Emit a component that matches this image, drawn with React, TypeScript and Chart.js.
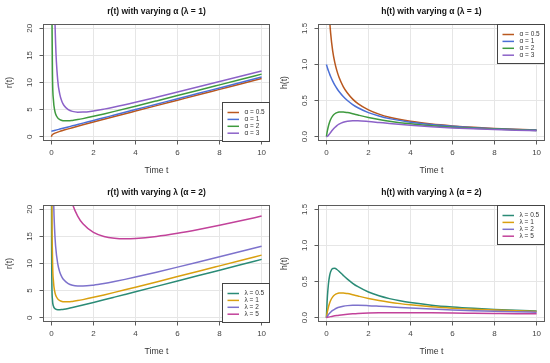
import React, { useEffect, useRef } from 'react';
import { Chart, registerables } from 'chart.js';

Chart.register(...registerables);

const FONT = '"Liberation Sans", Arial, Helvetica, sans-serif';

// ---- data ----
const X_TICKS = [0, 2, 4, 6, 8, 10];
const R_Y_TICKS = [0, 5, 10, 15, 20];
const R_Y_TICK_LABELS = ['0', '5', '10', '15', '20'];
const H_Y_TICKS = [0, 0.5, 1, 1.5];
const H_Y_TICK_LABELS = ['0.0', '0.5', '1.0', '1.5'];

const ALPHA_LABELS = ['α = 0.5', 'α = 1', 'α = 2', 'α = 3'];
const LAMBDA_LABELS = ['λ = 0.5', 'λ = 1', 'λ = 2', 'λ = 5'];
const ALPHA_COLORS = ['#B9581F', '#4B6FD6', '#3E9A3E', '#8C62C8'];
const LAMBDA_COLORS = ['#2A8B76', '#D9A010', '#7D72CC', '#C2429A'];

// time grid for the varying-alpha panels
const T_ALPHA = [0, 0.02, 0.05, 0.1, 0.15, 0.2, 0.3, 0.4, 0.5, 0.6, 0.8, 1, 1.25, 1.5, 2, 2.5, 3, 4, 5, 6, 7, 8, 9, 10];

const R_A05 = [0, 0.251, 0.376, 0.51, 0.61, 0.696, 0.844, 0.975, 1.098, 1.215, 1.44, 1.657, 1.922, 2.183, 2.697, 3.206, 3.713, 4.721, 5.727, 6.73, 7.733, 8.735, 9.737, 10.738];
const R_A1 = [1, 1.02, 1.05, 1.1, 1.15, 1.2, 1.3, 1.4, 1.5, 1.6, 1.8, 2, 2.25, 2.5, 3, 3.5, 4, 5, 6, 7, 8, 9, 10, 11];
const R_A2 = [null, 26.52, 11.55, 6.6, 4.983, 4.2, 3.467, 3.15, 3.0, 2.933, 2.925, 3.0, 3.15, 3.333, 3.75, 4.2, 4.667, 5.625, 6.6, 7.583, 8.571, 9.563, 10.556, 11.55];
const R_A3 = [null, 902, 162, 48.77, 25.85, 17.2, 10.448, 7.817, 6.5, 5.748, 4.988, 4.667, 4.53, 4.537, 4.75, 5.087, 5.481, 6.354, 7.28, 8.231, 9.197, 10.172, 11.152, 12.137];

const H_A05 = [null, 3.99, 2.658, 1.962, 1.639, 1.437, 1.185, 1.025, 0.911, 0.823, 0.694, 0.604, 0.52, 0.458, 0.371, 0.312, 0.269, 0.212, 0.175, 0.149, 0.129, 0.1145, 0.1027, 0.0931];
const H_A1 = [1, 0.98, 0.952, 0.909, 0.87, 0.833, 0.769, 0.714, 0.667, 0.625, 0.556, 0.5, 0.444, 0.4, 0.333, 0.286, 0.25, 0.2, 0.167, 0.143, 0.125, 0.111, 0.1, 0.0909];
const H_A2 = [0, 0.0377, 0.0866, 0.1515, 0.2007, 0.2381, 0.2885, 0.3175, 0.3333, 0.3409, 0.3419, 0.3333, 0.3175, 0.3, 0.2667, 0.2381, 0.2143, 0.1778, 0.1515, 0.1319, 0.1167, 0.1046, 0.0947, 0.0866];
const H_A3 = [0, 0.0011, 0.0062, 0.0205, 0.0387, 0.0581, 0.0957, 0.1279, 0.1538, 0.174, 0.2005, 0.2143, 0.2208, 0.2204, 0.2105, 0.1966, 0.1824, 0.1574, 0.1374, 0.1215, 0.1087, 0.0983, 0.0897, 0.0824];

// time grid for the varying-lambda panels
const T_LAMBDA = [0, 0.005, 0.01, 0.02, 0.05, 0.1, 0.15, 0.2, 0.3, 0.4, 0.5, 0.6, 0.8, 1, 1.25, 1.5, 2, 2.5, 3, 3.5, 4, 5, 6, 7, 8, 9, 10];

const R_L05 = [null, 25.76, 13.26, 7.02, 3.3, 2.1, 1.733, 1.575, 1.467, 1.463, 1.5, 1.558, 1.706, 1.875, 2.1, 2.333, 2.813, 3.3, 3.792, 4.286, 4.781, 5.775, 6.771, 7.768, 8.766, 9.764, 10.763];
const R_L1 = [null, 101.5, 51.51, 26.52, 11.55, 6.6, 4.983, 4.2, 3.467, 3.15, 3.0, 2.933, 2.925, 3.0, 3.15, 3.333, 3.75, 4.2, 4.667, 5.143, 5.625, 6.6, 7.583, 8.571, 9.563, 10.556, 11.55];
const R_L2 = [null, 403, 203, 103, 43.05, 23.1, 16.48, 13.2, 9.967, 8.4, 7.5, 6.933, 6.3, 6, 5.85, 5.833, 6, 6.3, 6.667, 7.071, 7.5, 8.4, 9.333, 10.286, 11.25, 12.222, 13.2];
const R_L5 = [null, 2507.5, 1257.5, 632.5, 257.6, 132.6, 90.98, 70.2, 49.47, 39.15, 33.0, 28.93, 23.93, 21.0, 18.75, 17.33, 15.75, 15.0, 14.667, 14.571, 14.625, 15.0, 15.583, 16.286, 17.063, 17.889, 18.75];

const H_L05 = [0, 0.0388, 0.0754, 0.1425, 0.303, 0.4762, 0.577, 0.6349, 0.6818, 0.6838, 0.6667, 0.6418, 0.5861, 0.5333, 0.4762, 0.4286, 0.3556, 0.303, 0.2637, 0.2333, 0.2092, 0.1732, 0.1477, 0.1287, 0.1141, 0.1024, 0.0929];
const H_L1 = [0, 0.0099, 0.0194, 0.0377, 0.0866, 0.1515, 0.2007, 0.2381, 0.2885, 0.3175, 0.3333, 0.3409, 0.3419, 0.3333, 0.3175, 0.3, 0.2667, 0.2381, 0.2143, 0.1944, 0.1778, 0.1515, 0.1319, 0.1167, 0.1046, 0.0947, 0.0866];
const H_L2 = [0, 0.0025, 0.0049, 0.0097, 0.0232, 0.0433, 0.0607, 0.0758, 0.1003, 0.119, 0.1333, 0.1442, 0.1587, 0.1667, 0.1709, 0.1714, 0.1667, 0.1587, 0.15, 0.1414, 0.1333, 0.119, 0.1071, 0.0972, 0.0889, 0.0818, 0.0758];
const H_L5 = [0, 0.0004, 0.0008, 0.0016, 0.0039, 0.0075, 0.011, 0.0142, 0.0202, 0.0255, 0.0303, 0.0346, 0.0418, 0.0476, 0.0533, 0.0577, 0.0635, 0.0667, 0.0682, 0.0686, 0.0684, 0.0667, 0.0642, 0.0614, 0.0586, 0.0559, 0.0533];

type Panel = {
  title: string;
  yTitle: string;
  t: number[];
  series: (number | null)[][];
  labels: string[];
  colors: string[];
  yMin: number;
  yMax: number;
  yTicks: number[];
  yTickLabels: string[];
  legend: 'br' | 'tr';
};

const PANELS: Panel[] = [
  {
    title: 'r(t) with varying α (λ = 1)', yTitle: 'r(t)', t: T_ALPHA,
    series: [R_A05, R_A1, R_A2, R_A3], labels: ALPHA_LABELS, colors: ALPHA_COLORS,
    yMin: -0.8, yMax: 20.8, yTicks: R_Y_TICKS, yTickLabels: R_Y_TICK_LABELS, legend: 'br',
  },
  {
    title: 'h(t) with varying α (λ = 1)', yTitle: 'h(t)', t: T_ALPHA,
    series: [H_A05, H_A1, H_A2, H_A3], labels: ALPHA_LABELS, colors: ALPHA_COLORS,
    yMin: -0.06, yMax: 1.56, yTicks: H_Y_TICKS, yTickLabels: H_Y_TICK_LABELS, legend: 'tr',
  },
  {
    title: 'r(t) with varying λ (α = 2)', yTitle: 'r(t)', t: T_LAMBDA,
    series: [R_L05, R_L1, R_L2, R_L5], labels: LAMBDA_LABELS, colors: LAMBDA_COLORS,
    yMin: -0.8, yMax: 20.8, yTicks: R_Y_TICKS, yTickLabels: R_Y_TICK_LABELS, legend: 'br',
  },
  {
    title: 'h(t) with varying λ (α = 2)', yTitle: 'h(t)', t: T_LAMBDA,
    series: [H_L05, H_L1, H_L2, H_L5], labels: LAMBDA_LABELS, colors: LAMBDA_COLORS,
    yMin: -0.06, yMax: 1.56, yTicks: H_Y_TICKS, yTickLabels: H_Y_TICK_LABELS, legend: 'tr',
  },
];

function PanelChart({ p, left, top }: { p: Panel; left: number; top: number }) {
  const ref = useRef<HTMLCanvasElement>(null);
  useEffect(() => {
    const canvas = ref.current;
    if (!canvas) return;

    const decor = {
      id: 'decor',
      afterDraw(chart: any) {
        const { ctx, chartArea: a } = chart;
        const ys = chart.scales.y;
        ctx.save();
        // plot box
        ctx.strokeStyle = '#5c5c5c';
        ctx.lineWidth = 1;
        ctx.setLineDash([]);
        const l = Math.round(a.left) + 0.5;
        const t = Math.round(a.top) + 0.5;
        const r = Math.round(a.right) - 0.5;
        const b = Math.round(a.bottom) - 0.5;
        ctx.strokeRect(l, t, r - l, b - t);

        // title, centred over the plot region
        ctx.fillStyle = '#151515';
        ctx.font = `bold 8.5px ${FONT}`;
        ctx.textAlign = 'center';
        ctx.textBaseline = 'middle';
        ctx.fillText(p.title, (a.left + a.right) / 2, 11.8);

        // rotated y tick labels
        ctx.fillStyle = '#444';
        ctx.font = `8px ${FONT}`;
        ctx.textAlign = 'center';
        ctx.textBaseline = 'middle';
        p.yTicks.forEach((v, i) => {
          const py = ys.getPixelForValue(v);
          ctx.save();
          ctx.translate(a.left - 13, py);
          ctx.rotate(-Math.PI / 2);
          ctx.fillText(p.yTickLabels[i], 0, 0);
          ctx.restore();
        });

        // legend
        const w = 48;
        const h = 39;
        const bx = Math.round(r - w) + 0.5;
        const by = p.legend === 'br' ? Math.round(b - h) + 0.5 : t;
        ctx.fillStyle = '#ffffff';
        ctx.fillRect(bx, by, w, h);
        ctx.strokeStyle = '#444';
        ctx.lineWidth = 1;
        ctx.strokeRect(bx, by, r - bx, h);
        chart.data.datasets.forEach((ds: any, i: number) => {
          const y = by + 10 + i * 6.9;
          ctx.strokeStyle = ds.borderColor;
          ctx.lineWidth = 1.5;
          ctx.beginPath();
          ctx.moveTo(bx + 5, y);
          ctx.lineTo(bx + 16.5, y);
          ctx.stroke();
          ctx.fillStyle = '#333';
          ctx.font = `6.5px ${FONT}`;
          ctx.textAlign = 'left';
          ctx.textBaseline = 'middle';
          ctx.fillText(ds.label, bx + 22, y);
        });
        ctx.restore();
      },
    };

    const gridOpts = {
      color: '#e6e6e6',
      lineWidth: 1,
      borderDash: [1, 2],
      drawTicks: true,
      tickLength: 3.5,
      tickColor: '#5c5c5c',
      tickWidth: 1,
      tickBorderDash: [],
    };

    const chart = new Chart(canvas, {
      type: 'line',
      data: {
        datasets: p.series.map((vals, i) => ({
          label: p.labels[i],
          data: p.t.map((x, j) => ({ x, y: vals[j] })),
          borderColor: p.colors[i],
          backgroundColor: p.colors[i],
          borderWidth: 1.5,
          pointRadius: 0,
          fill: false,
          spanGaps: false,
          cubicInterpolationMode: 'monotone',
          order: -i,
        })),
      },
      options: {
        animation: false,
        responsive: false,
        maintainAspectRatio: false,
        layout: { padding: { left: 0, right: 5, top: 24, bottom: 0 } },
        plugins: {
          legend: { display: false },
          tooltip: { enabled: false },
          title: { display: false },
        },
        scales: {
          x: {
            type: 'linear',
            min: -0.4,
            max: 10.4,
            afterBuildTicks: (s: any) => {
              s.ticks = X_TICKS.map((v) => ({ value: v }));
            },
            afterFit: (s: any) => {
              s.height = 41;
            },
            ticks: {
              color: '#444',
              font: { family: FONT, size: 8 },
              padding: 3,
              maxRotation: 0,
              autoSkip: false,
              callback: (v: any) => String(v),
            },
            grid: gridOpts,
            border: { display: false },
            title: {
              display: true,
              text: 'Time t',
              color: '#333',
              font: { family: FONT, size: 8.7 },
              padding: { top: 0, bottom: 6 },
            },
          },
          y: {
            type: 'linear',
            min: p.yMin,
            max: p.yMax,
            afterBuildTicks: (s: any) => {
              s.ticks = p.yTicks.map((v) => ({ value: v }));
            },
            afterFit: (s: any) => {
              s.width = 43;
            },
            ticks: { display: false },
            grid: gridOpts,
            border: { display: false },
            title: {
              display: true,
              text: p.yTitle,
              color: '#333',
              font: { family: FONT, size: 8.7 },
              padding: { top: 4.6, bottom: 0 },
            },
          },
        },
      } as any,
      plugins: [decor],
    });
    return () => chart.destroy();
  }, [p]);

  return (
    <canvas
      ref={ref}
      width={275}
      height={182}
      style={{ position: 'absolute', left, top, display: 'block', width: 275, height: 182 }}
    />
  );
}

export default function App() {
  return (
    <div
      style={{
        position: 'fixed',
        left: 0,
        top: 0,
        width: 550,
        height: 363,
        background: '#ffffff',
        overflow: 'hidden',
      }}
    >
      <PanelChart p={PANELS[0]} left={0} top={0} />
      <PanelChart p={PANELS[1]} left={275} top={0} />
      <PanelChart p={PANELS[2]} left={0} top={181} />
      <PanelChart p={PANELS[3]} left={275} top={181} />
    </div>
  );
}
